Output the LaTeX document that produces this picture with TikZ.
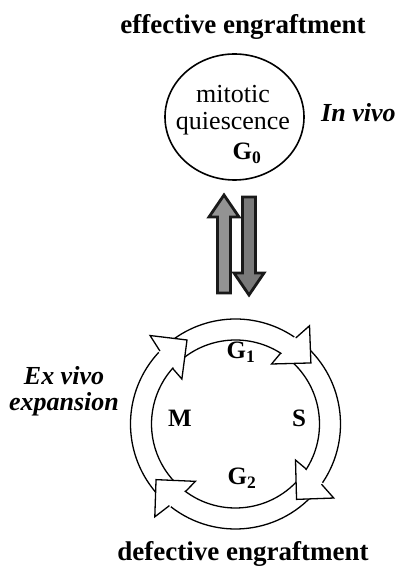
\documentclass[tikz,border=0pt]{standalone}
\usepackage{fontspec}
\setmainfont{Liberation Serif}
\usetikzlibrary{shapes.geometric}
\definecolor{upgray}{HTML}{939393}
\definecolor{downgray}{HTML}{7A7A7A}
\tikzset{
  titletxt/.style={font=\fontsize{27}{30}\selectfont\bfseries, anchor=base, inner sep=0pt},
  sidetxt/.style={font=\fontsize{26}{26}\selectfont\bfseries\itshape, inner sep=0pt, align=center},
  celltxt/.style={font=\fontsize{26}{28}\selectfont, anchor=base, inner sep=0pt},
  phasetxt/.style={font=\fontsize{25}{27}\selectfont\bfseries, inner sep=0pt},
  blockarrow/.style={draw=black!90, line width=2.8pt, line join=miter},
  ringline/.style={draw=black, line width=1.3pt},
}
\begin{document}
\begin{tikzpicture}[x=1pt,y=1pt]
\useasboundingbox (0,0) rectangle (397,568);
% titles
\node[titletxt] (top) at (243,534) {effective engraftment};
\node[titletxt] (bottom) at (243,8) {defective engraftment};
% G0 ellipse
\node[ellipse, draw, line width=1.6pt, minimum width=139pt, minimum height=126pt, inner sep=0pt] (g0) at (234.5,451) {};
\node[celltxt] (mit) at (233,465) {mitotic};
\node[celltxt] (qui) at (233,438) {quiescence};
\node[celltxt, font=\fontsize{25}{27}\selectfont\bfseries] (gzero) at (247,408) {G\textsubscript{0}};
\node[sidetxt, anchor=base west] (invivo) at (321,446) {In vivo};
% block arrows
\draw[blockarrow, fill=upgray] (217.5,275) -- (217.5,351) -- (209,351) -- (224,373) -- (239,351) -- (230.5,351) -- (230.5,275) -- cycle;
\draw[blockarrow, fill=downgray] (242.5,371) -- (242.5,295) -- (234,295) -- (249,273) -- (264,295) -- (255.5,295) -- (255.5,371) -- cycle;
% cycle
\coordinate (c) at (235.5,144);
% bands
\foreach \t/\b in {133/56, 52/-34, -38/-128, -132/-223}{
  \fill[white] ([shift={(c)}]\t:105) arc[start angle=\t, end angle=\b, radius=105pt]
     -- ([shift={(c)}]\b:84) arc[start angle=\b, end angle=\t, radius=84pt] -- cycle;
  \draw[ringline] ([shift={(c)}]\t:105) arc[start angle=\t, end angle=\b, radius=105pt];
  \draw[ringline] ([shift={(c)}]\b:84) arc[start angle=\b, end angle=\t, radius=84pt];
}
% heads
\foreach \b in {56,-34,-128,137}{
  \pgfmathsetmacro{\ba}{\b-1}
  \pgfmathsetmacro{\bb}{\b-3}
  \pgfmathsetmacro{\bt}{\b-17}
  \pgfmathsetmacro{\bc}{\b+3}
  \pgfmathsetmacro{\bd}{\b+1.5}
  \fill[white] ([shift={(c)}]\bb:123) -- ([shift={(c)}]\bt:97) -- ([shift={(c)}]\bc:70) -- cycle;
  \draw[ringline, line join=miter] ([shift={(c)}]\ba:105) -- ([shift={(c)}]\bb:123) -- ([shift={(c)}]\bt:97) -- ([shift={(c)}]\bc:70) -- ([shift={(c)}]\bd:84);
}
\node[phasetxt] (g1) at (241,216) {G\textsubscript{1}};
\node[phasetxt] (g2) at (242,90) {G\textsubscript{2}};
\node[phasetxt] (m) at (180,150) {M};
\node[phasetxt] (s) at (299,150) {S};
\node[sidetxt, anchor=base] (exvivo) at (64,157) {Ex vivo\\expansion};
\end{tikzpicture}
\end{document}
